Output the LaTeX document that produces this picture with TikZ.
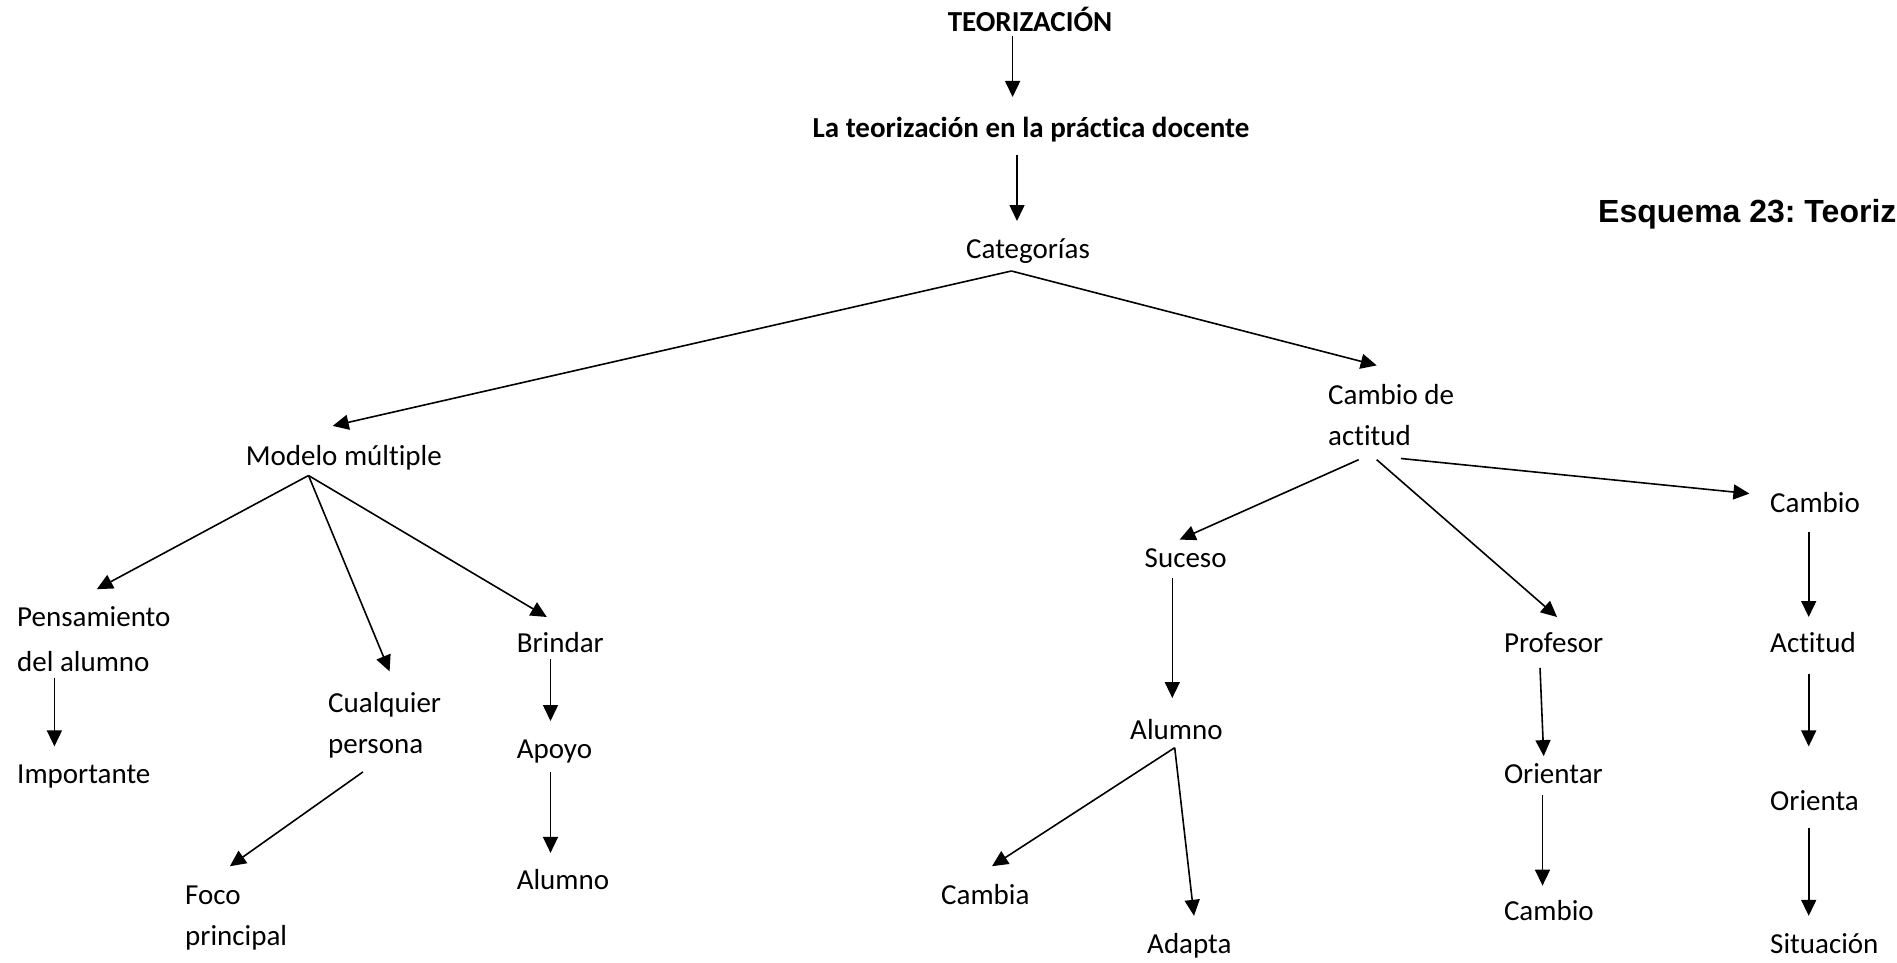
\documentclass[tikz,border=0pt]{standalone}
\usepackage{fontspec}
\setmainfont{Carlito}[Ligatures={NoCommon,NoContextual}]
\newfontfamily\arialfont{Liberation Sans}
\usetikzlibrary{arrows.meta,calc}
\newcommand{\calib}{\fontsize{29}{41}\selectfont}
\begin{document}
\begin{tikzpicture}[x=1pt,y=-1pt,
  lbl/.style={anchor=north west,inner sep=0pt,align=left,font=\calib},
  ctr/.style={anchor=north,inner sep=0pt,align=center,font=\calib\bfseries},
  arr/.style={line width=1.6pt,-{Triangle[length=16pt,width=15pt]}}]
\useasboundingbox (0,0) rectangle (1897,963);

% nodes
\node[ctr] (teo) at (1030,2.3) {TEORIZACIÓN\strut};
\node[ctr] (lat) at (1031,108.3) {La teorización en la práctica docente\strut};
\node[ctr,font=\calib\mdseries] (cat) at (1028,229.3) {Categorías\strut};
\node[anchor=base west,inner sep=0pt,font=\arialfont\fontsize{32}{38}\selectfont\bfseries\frenchspacing] (esq) at (1598,222) {Esquema 23: Teoriz};

\node[lbl] (mod) at (245.6,436.3) {Modelo múltiple\strut};
\node[lbl] (cda) at (1328,375.3) {Cambio de\strut\\actitud\strut};

\node[lbl] (pens) at (17,597.3) {Pensamiento\strut\\[4pt]del alumno\strut};
\node[lbl] (imp) at (17,754.3) {Importante\strut};
\node[lbl] (cual) at (328,683.3) {Cualquier\strut\\persona\strut};
\node[lbl] (foco) at (185,875.3) {Foco\strut\\principal\strut};
\node[lbl] (brin) at (516.6,623.3) {Brindar\strut};
\node[lbl] (apoyo) at (516.6,729.3) {Apoyo\strut};
\node[lbl] (alum1) at (516.6,860.3) {Alumno\strut};

\node[lbl] (suc) at (1144.5,538.3) {Suceso\strut};
\node[lbl] (alum2) at (1130,710.3) {Alumno\strut};
\node[lbl] (camb) at (941,875.3) {Cambia\strut};
\node[lbl] (adap) at (1147,924.3) {Adapta\strut};

\node[lbl] (prof) at (1503.8,623.3) {Profesor\strut};
\node[lbl] (orir) at (1503.8,754.3) {Orientar\strut};
\node[lbl] (cam2) at (1503.8,891.3) {Cambio\strut};

\node[lbl] (cam3) at (1770,483.3) {Cambio\strut};
\node[lbl] (act) at (1770,623.3) {Actitud\strut};
\node[lbl] (oria) at (1770,781.3) {Orienta\strut};
\node[lbl] (sit) at (1770,924.3) {Situación\strut};

% connectors
\draw[arr] ($(teo.north)+(-17.4,33.7)$) -- ($(lat.north)+(-18.4,-11.3)$);
\draw[arr] ($(lat.north)+(-14,46.7)$) -- ($(cat.north)+(-11,-8.3)$);
\draw[arr] ($(cat.north)+(-16.6,41.7)$) -- ($(mod.north west)+(87.1,-10.4)$);
\draw[arr] ($(cat.north)+(-16.6,41.7)$) -- ($(cda.north west)+(48.7,-9.9)$);

\draw[arr] ($(mod.north west)+(62.9,39.2)$) -- ($(pens.north west)+(79.8,-8.1)$);
\draw[arr] ($(mod.north west)+(62.9,39.2)$) -- ($(cual.north west)+(61.6,-11.9)$);
\draw[arr] ($(mod.north west)+(62.9,39.2)$) -- ($(brin.north west)+(30.2,-6.3)$);
\draw[arr] ($(pens.north west)+(37.4,80.2)$) -- ($(imp.north west)+(37.4,-7.9)$);
\draw[arr] ($(cual.north west)+(35,88.6)$) -- ($(foco.north west)+(44.9,-9.1)$);
\draw[arr] ($(brin.north west)+(33.9,36)$) -- ($(apoyo.north west)+(33.9,-8.3)$);
\draw[arr] ($(apoyo.north west)+(33.9,42.6)$) -- ($(alum1.north west)+(33.9,-7.4)$);

\draw[arr] ($(cda.north west)+(30.6,84.4)$) -- ($(suc.north west)+(35.1,1.3)$);
\draw[arr] ($(cda.north west)+(48.7,84.4)$) -- ($(prof.north west)+(53.2,-6.3)$);
\draw[arr] ($(cda.north west)+(72.9,83.2)$) -- ($(cam3.north west)+(-20.6,10.3)$);

\draw[arr] ($(suc.north west)+(27.8,40)$) -- ($(alum2.north west)+(42.3,-12.3)$);
\draw[arr] ($(alum2.north west)+(44.7,37.4)$) -- ($(camb.north west)+(51,-9.1)$);
\draw[arr] ($(alum2.north west)+(44.7,37.4)$) -- ($(adap.north west)+(47,-8.5)$);

\draw[arr] ($(prof.north west)+(36.2,44.5)$) -- ($(orir.north west)+(39.9,1.8)$);
\draw[arr] ($(orir.north west)+(38.7,40.5)$) -- ($(cam2.north west)+(38.7,-5.7)$);

\draw[arr] ($(cam3.north west)+(38.7,49)$) -- ($(act.north west)+(38.7,-6.3)$);
\draw[arr] ($(act.north west)+(38.7,50.6)$) -- ($(oria.north west)+(38.7,-34.9)$);
\draw[arr] ($(oria.north west)+(38.7,46.2)$) -- ($(sit.north west)+(38.7,-8.5)$);
\end{tikzpicture}
\end{document}
